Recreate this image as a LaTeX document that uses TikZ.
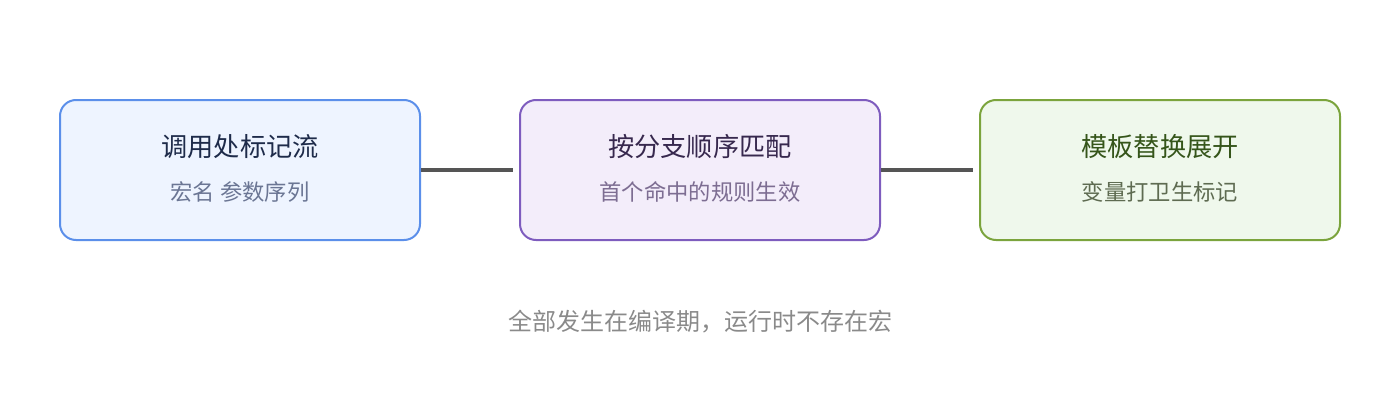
\documentclass[tikz,border=0pt]{standalone}
\usepackage{fontspec}
\newfontfamily\cjk{Noto Sans CJK SC}
\definecolor{bAfill}{HTML}{EEF4FF}
\definecolor{bAdraw}{HTML}{5B8FEA}
\definecolor{bAtitle}{HTML}{1E2B4A}
\definecolor{bAsub}{HTML}{6B7694}
\definecolor{bBfill}{HTML}{F3EDFA}
\definecolor{bBdraw}{HTML}{7E5CBE}
\definecolor{bBtitle}{HTML}{37284E}
\definecolor{bBsub}{HTML}{7D6D92}
\definecolor{bCfill}{HTML}{EFF8EC}
\definecolor{bCdraw}{HTML}{7BA43D}
\definecolor{bCtitle}{HTML}{35551A}
\definecolor{bCsub}{HTML}{5E6B51}
\definecolor{linkc}{HTML}{555555}
\definecolor{notec}{HTML}{8A8A8A}
\tikzset{
  card/.style={draw, line width=2pt, rounded corners=16pt, minimum width=360pt, minimum height=140pt, inner sep=0pt},
  ttl/.style={font=\cjk\fontsize{26.2}{30}\selectfont, inner sep=0pt},
  sub/.style={font=\cjk\fontsize{22.3}{26}\selectfont, inner sep=0pt},
  link/.style={draw=linkc, line width=3.5pt},
}
\begin{document}
\begin{tikzpicture}[x=1pt,y=-1pt]
\useasboundingbox (0,0) rectangle (1400,420);
\node[card, fill=bAfill, draw=bAdraw] (a) at (240,170) {};
\node[card, fill=bBfill, draw=bBdraw] (b) at (700,170) {};
\node[card, fill=bCfill, draw=bCdraw] (c) at (1160,170) {};
\node[ttl, text=bAtitle] (at) at (240,147) {调用处标记流};
\node[sub, text=bAsub] (as) at (240,192) {宏名 参数序列};
\node[ttl, text=bBtitle] (bt) at (700,147) {按分支顺序匹配};
\node[sub, text=bBsub] (bs) at (700,192) {首个命中的规则生效};
\node[ttl, text=bCtitle] (ct) at (1160,147) {模板替换展开};
\node[sub, text=bCsub] (cs) at (1160,192) {变量打卫生标记};
\coordinate (ae) at ([xshift=92pt]a.east);
\coordinate (be) at ([xshift=92pt]b.east);
\draw[link] (a.east) -- (ae);
\draw[link] (b.east) -- (be);
\node[font=\cjk\fontsize{24}{28}\selectfont, text=notec, inner sep=0pt] (note) at (700,322) {全部发生在编译期，运行时不存在宏};
\end{tikzpicture}
\end{document}
